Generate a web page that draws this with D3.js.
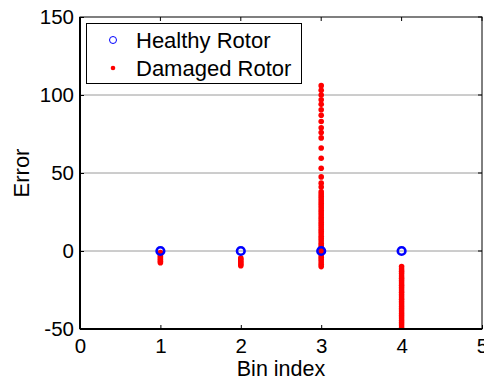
<!DOCTYPE html>
<html>
<head>
<meta charset="utf-8">
<script src="https://cdn.jsdelivr.net/npm/d3@7"></script>
<style>
  body { margin: 0; background: #fff; }
  svg { display: block; font-family: "Liberation Sans", Arial, sans-serif; }
</style>
</head>
<body>
<div id="chart"></div>
<script>
const xTicks = [0, 1, 2, 3, 4, 5]
const yTicks = [-50, 0, 50, 100, 150]
const gridValues = [0, 50, 100]

// healthy rotor: error sits at ~0 for every bin
const healthyBins = [1, 2, 3, 4]
const healthyErrors = [0, 0, 0, 0]

// damaged rotor errors per bin
const damagedBin1 = [-1, -2.5, -3.5, -4.5, -5.5, -6.5, -7.5]
const damagedBin2 = [-4.5, -5.5, -6.5, -7.5, -8.5, -9.5]
const damagedBin3 = [
  106, 103, 100, 97, 94, 90.5, 87, 83, 79, 76, 72.5, 66, 59.5, 53, 47.5,
  43.5, 41, 38, 36.5, 35, 33.5, 32, 30.5, 29, 27.5, 26, 24.5, 23, 21.5,
  20, 18.5, 17, 15.5, 14, 12.5, 11, 9.5, 8, 6.5, 5, 3.5, 2, 0.5, -1, -2.5,
  -4, -5.5, -7, -8.5, -10
]
const damagedBin4 = [
  -10, -11.5, -13, -14.5, -16, -17.5, -19, -20.5, -22, -23.5, -25, -26.5,
  -28, -29.5, -31, -32.5, -34, -35.5, -37, -38.5, -40, -41.5, -43, -44.5,
  -46, -47.5, -49, -50.5
]

const width = 484
const height = 383
const margin = {top: 17, right: 2, bottom: 54, left: 80}
const font = "Liberation Sans, Arial, sans-serif"

const damaged = [
  ...damagedBin1.map(v => [1, v]),
  ...damagedBin2.map(v => [2, v]),
  ...damagedBin3.map(v => [3, v]),
  ...damagedBin4.map(v => [4, v])
]
const healthy = healthyBins.map((b, i) => [b, healthyErrors[i]])

const svg = d3.select("#chart").append("svg")
  .attr("width", width)
  .attr("height", height)

const x = d3.scaleLinear()
  .domain([0, 5])
  .range([margin.left, width - margin.right])
const y = d3.scaleLinear()
  .domain([-50, 150])
  .range([height - margin.bottom, margin.top])

svg.append("clipPath").attr("id", "clip")
  .append("rect")
    .attr("x", margin.left)
    .attr("y", margin.top)
    .attr("width", width - margin.left - margin.right)
    .attr("height", height - margin.top - margin.bottom)

// grid
svg.append("g").selectAll("line")
  .data(gridValues)
  .join("line")
    .attr("x1", x(0))
    .attr("x2", x(5))
    .attr("y1", d => y(d))
    .attr("y2", d => y(d))
    .attr("stroke", "#9a9a9a")
    .attr("stroke-width", 1)

// axes, ticks inside
const axisBottom = d3.axisBottom(x).tickValues(xTicks).tickFormat(d => String(d))
  .tickSize(-4).tickPadding(9)
const axisLeft = d3.axisLeft(y).tickValues(yTicks).tickFormat(d => String(d))
  .tickSize(-4).tickPadding(6)

const gx = svg.append("g")
  .attr("transform", `translate(0,${y(-50)})`)
  .call(axisBottom)
gx.select(".domain").remove()
gx.selectAll("text").attr("font-size", 20.5).attr("fill", "#000").attr("font-family", font)
gx.selectAll("line").attr("stroke", "#000")

const gy = svg.append("g")
  .attr("transform", `translate(${x(0)},0)`)
  .call(axisLeft)
gy.select(".domain").remove()
gy.selectAll("text").attr("font-size", 20.5).attr("fill", "#000").attr("font-family", font)
gy.selectAll("line").attr("stroke", "#000")

// top / right ticks
svg.append("g").selectAll("line")
  .data(xTicks)
  .join("line")
    .attr("x1", d => x(d)).attr("x2", d => x(d))
    .attr("y1", y(150)).attr("y2", y(150) + 4)
    .attr("stroke", "#000")
svg.append("g").selectAll("line")
  .data(yTicks)
  .join("line")
    .attr("x1", x(5)).attr("x2", x(5) - 4)
    .attr("y1", d => y(d)).attr("y2", d => y(d))
    .attr("stroke", "#000")

// data
const plot = svg.append("g").attr("clip-path", "url(#clip)")

plot.append("g").selectAll("circle")
  .data(damaged)
  .join("circle")
    .attr("cx", d => x(d[0]))
    .attr("cy", d => y(d[1]))
    .attr("r", 2.8)
    .attr("fill", "#ff0000")

plot.append("g").selectAll("circle")
  .data(healthy)
  .join("circle")
    .attr("cx", d => x(d[0]))
    .attr("cy", d => y(d[1]))
    .attr("r", 3.8)
    .attr("fill", "none")
    .attr("stroke", "#0000ff")
    .attr("stroke-width", 2.6)

// frame
svg.append("rect")
  .attr("x", x(0))
  .attr("y", y(150))
  .attr("width", x(5) - x(0))
  .attr("height", y(-50) - y(150))
  .attr("fill", "none")
  .attr("stroke", "#000")
  .attr("stroke-width", 1)
svg.append("line")
  .attr("x1", x(0)).attr("x2", x(5))
  .attr("y1", y(-50)).attr("y2", y(-50))
  .attr("stroke", "#000").attr("stroke-width", 2)
svg.append("line")
  .attr("x1", x(0)).attr("x2", x(0))
  .attr("y1", y(150)).attr("y2", y(-50))
  .attr("stroke", "#000").attr("stroke-width", 2)

// axis titles
svg.append("text")
  .attr("x", (x(0) + x(5)) / 2)
  .attr("y", 376)
  .attr("text-anchor", "middle")
  .attr("font-size", 21.5)
  .text("Bin index")

svg.append("text")
  .attr("transform", `translate(29,${(y(150) + y(-50)) / 2}) rotate(-90)`)
  .attr("text-anchor", "middle")
  .attr("font-size", 22)
  .text("Error")

// legend
const legend = svg.append("g")
legend.append("rect")
  .attr("x", 86.5)
  .attr("y", 23.5)
  .attr("width", 215)
  .attr("height", 60)
  .attr("fill", "#fff")
  .attr("stroke", "#000")
  .attr("stroke-width", 1)

legend.append("circle")
  .attr("cx", 113).attr("cy", 40).attr("r", 3.5)
  .attr("fill", "none").attr("stroke", "#0000ff").attr("stroke-width", 1)
legend.append("circle")
  .attr("cx", 113).attr("cy", 68).attr("r", 2.3)
  .attr("fill", "#ff0000")

legend.append("text")
  .attr("x", 136).attr("y", 48)
  .attr("font-size", 22)
  .text("Healthy Rotor")
legend.append("text")
  .attr("x", 136).attr("y", 76)
  .attr("font-size", 22)
  .text("Damaged Rotor")
</script>
</body>
</html>
